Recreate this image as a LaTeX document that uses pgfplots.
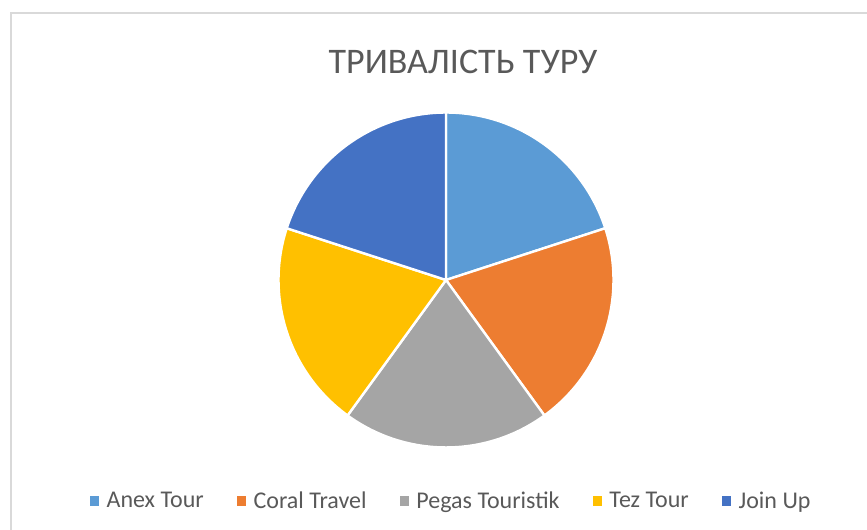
\documentclass[border=0pt]{standalone}
\usepackage{pgfplots}
\pgfplotsset{compat=1.18}
\usepackage{pgfplotstable}
\usepackage{fontspec}
\setmainfont{Carlito}
\definecolor{anex}{HTML}{5B9BD5}
\definecolor{coral}{HTML}{ED7D31}
\definecolor{pegas}{HTML}{A5A5A5}
\definecolor{tez}{HTML}{FFC000}
\definecolor{joinup}{HTML}{4472C4}
\definecolor{txt}{HTML}{595959}
\pgfplotstableread{
name value color
Anex 1 anex
Coral 1 coral
Pegas 1 pegas
Tez 1 tez
Join 1 joinup
}\pietable
\begin{document}
\begin{tikzpicture}
\begin{axis}[
  width=650.25pt, height=397.5pt, scale only axis,
  xmin=0, xmax=867, ymin=0, ymax=530,
  axis lines=none, clip=false,
  legend columns=5,
  legend style={at={(axis cs:451,29)}, anchor=center, draw=none, fill=none,
    font=\fontsize{18}{21}\selectfont\color{txt},
    /tikz/every even column/.append style={column sep=24pt},
    /tikz/every odd column/.append style={column sep=5pt},
    nodes={inner xsep=1pt},
    legend cell align=left},
  legend image code/.code={\fill[#1] (0pt,-3pt) rectangle (6pt,3.5pt);},
]
\draw[black!15, line width=1.8pt] (axis cs:11,0) -- (axis cs:11,517) -- (axis cs:867,517);
\node[text=txt, font=\fontsize{27}{32}\selectfont] at (axis cs:463,468) {ТРИВАЛІСТЬ ТУРУ};
\pgfplotstablegetrowsof{\pietable}
\pgfmathtruncatemacro{\nrows}{\pgfplotsretval-1}
\pgfmathsetmacro{\total}{0}
\foreach \i in {0,...,\nrows}{
  \pgfplotstablegetelem{\i}{value}\of{\pietable}
  \pgfmathsetmacro{\v}{\pgfplotsretval}
  \pgfmathsetmacro{\total}{\total+\v}
  \xdef\total{\total}
}
\def\cum{0}
\foreach \i in {0,...,\nrows}{
  \pgfplotstablegetelem{\i}{value}\of{\pietable}
  \pgfmathsetmacro{\v}{\pgfplotsretval}
  \pgfplotstablegetelem{\i}{color}\of{\pietable}
  \edef\col{\pgfplotsretval}
  \pgfmathsetmacro{\a}{90-360*\cum/\total}
  \pgfmathsetmacro{\b}{90-360*(\cum+\v)/\total}
  \edef\tmp{\noexpand\filldraw[fill=\col, draw=white, line width=1.8pt, line join=round]
    (axis cs:446,250) -- ++(\a:125.6pt) arc[start angle=\a, end angle=\b, radius=125.6pt] -- cycle;}
  \tmp
  \pgfmathsetmacro{\cum}{\cum+\v}
  \xdef\cum{\cum}
}
\addlegendimage{anex}\addlegendentry{Anex Tour}
\addlegendimage{coral}\addlegendentry{Coral Travel}
\addlegendimage{pegas}\addlegendentry{Pegas Touristik}
\addlegendimage{tez}\addlegendentry{Tez Tour}
\addlegendimage{joinup}\addlegendentry{Join Up}
\end{axis}
\pgfresetboundingbox
\path[use as bounding box] (current axis.south west) rectangle (current axis.north east);
\end{tikzpicture}
\end{document}
